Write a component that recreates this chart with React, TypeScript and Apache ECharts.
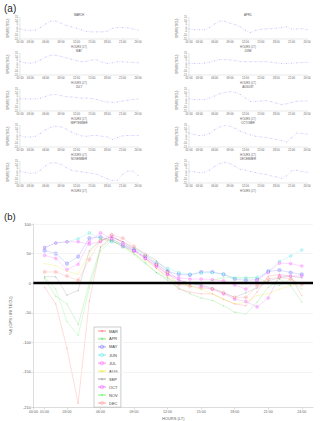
import React, { useEffect, useRef } from "react";
import * as echarts from "echarts";

// ---------- Data ----------
const HOURS = [1, 2, 3, 4, 5, 6, 7, 8, 9, 10, 11, 12, 13, 14, 15, 16, 17, 18, 19, 20, 21, 22, 23, 24];
const TICKS_A = [1, 3, 6, 9, 12, 15, 18, 21, 24];
const TICKS_B = [0, 1, 3, 6, 9, 12, 15, 18, 21, 24];
const Y_LABELS_B = [-210, -150, -100, -50, 0, 50, 100];
const GRID_B = [100, 50, -50, -100, -150];

// panel (a): GPS - IRI difference (TECU)
const MARCH_A = [-1, -2.5, -3, -2.5, 1, 6, 10, 10, 7, 4, 2, 0, -2, -4.5, -5, -5, -5, -4, 0, 1, 1, 0.5, -1, -2.5];
const APRIL_A = [-1, -2, -2, -2, 1, 6, 10, 9.5, 7, 5, 2, -3, -6, -3, -1.5, -1, -0.5, 0, 1, 2, -1, -1, -0.5, -2];
const MAY_A = [4, 2, 1.5, 3, 6, 10, 12.5, 12.5, 11, 9, 7, 5, 3.5, 4, 6, 6, 3, 1, 2, 3.5, 3.5, 3, 2.5, 2];
const JUNE_A = [1.5, 1, 1, 1.5, 3, 5, 6.5, 6.5, 6, 5, 4, 3.5, 3.5, 3.5, 3.5, 3.5, 3, 2, 1, 1, 1.5, 2, 2.5, 2.5];
const JULY_A = [2, 2, 2, 2, 3, 5.5, 7.5, 8, 6.5, 5, 4.5, 4, 3, 3, 2.5, 1, -1, -2.5, -3, -2.5, -1, 0, 1, 2];
const AUGUST_A = [2, 1, 1, 1, 3, 6, 9, 11, 12, 11, 8, 3, -1.5, -1.5, -1, -0.5, -2, -4, -6, -5, -3, -1.5, -1, -1];
const SEPTEMBER_A = [1, -1, -1, 0, 4, 9, 12.5, 14, 13, 10, 6, 3, 0.5, 0, 1, 1, 0, -1, -4.5, -2, 0.5, 1, 1, 1];
const OCTOBER_A = [4.5, 2.5, 1, 1.5, 4, 9, 13, 15, 14, 11, 7, 4.5, 2, 0, -1, -1.5, -3, -4.5, -6, -8, -2, 4.5, 4, 3];
const NOVEMBER_A = [1.5, 0, -1.5, -1, 3, 9, 13, 13, 11, 6.5, 3, 1.5, 0.5, -0.5, -1.5, -3, -6, -9, -11.5, -11, -3, 1.5, 1.5, -4.5];
const DECEMBER_A = [1.5, 0.5, -0.5, 0, 3, 8, 12, 14, 12, 8, 4, 3, 1, -0.5, -2, -3, -5, -6.5, -8.5, -5, 2, 3, 1, 0];

// panel (b): % difference
const MAR_B = [-7, -35, -110, -203, -30, 62, 78, 70, 58, 42, 25, 10, -10, -15, -18, -18, -27, -35, -38, -15, 12, 15, 12, -21];
const APR_B = [8, -22, -35, -70, 0, 60, 75, 65, 50, 35, 18, 5, -8, -18, -25, -29, -38, -49, -52, -32, -7, 7, -4, -32];
const MAY_B = [55, 50, 33, 45, 76, 78, 72, 62, 55, 45, 32, 20, 15, 14, 19, 19, 15, 7, 5, 6, 20, 22, 18, 15];
const JUN_B = [60, 68, 70, 75, 85, 75, 70, 65, 58, 48, 35, 25, 18, 15, 17, 18, 15, 9, 9, 10, 20, 37, 46, 56];
const JUL_B = [47, 42, 23, 32, 70, 85, 75, 65, 55, 42, 28, 15, 9, 7, 7, 6, 4, -3, -10, 5, 18, 34, 33, 29];
const AUG_B = [33, 30, 20, 15, 50, 75, 72, 62, 50, 38, 25, 12, 0, -5, -10, -18, -27, -35, -32, -21, -18, -10, -4, 1];
const SEP_B = [11, 11, -20, -12, 55, 72, 78, 70, 60, 50, 38, 22, 5, 0, -3, -8, -16, -24, -16, -8, 4, 9, 12, 9];
const OCT_B = [60, 68, 70, 70, 66, 70, 80, 68, 55, 42, 30, 15, 5, 0, -5, -10, -18, -27, -31, -40, -25, 12, 12, 12];
const NOV_B = [10, -10, -65, -88, -8, 55, 72, 62, 48, 33, 18, 8, 0, -3, -2, 5, 9, 9, 9, 9, 1, -4, 7, -10];
const DEC_B = [19, 19, 12, 5, 40, 72, 82, 76, 62, 48, 32, 18, -2, -5, -8, -10, -16, -24, -24, -4, 7, 10, 7, -2];

const PANELS_A = [
  { name: "MARCH", data: MARCH_A },
  { name: "APRIL", data: APRIL_A },
  { name: "MAY", data: MAY_A },
  { name: "JUNE", data: JUNE_A },
  { name: "JULY", data: JULY_A },
  { name: "AUGUST", data: AUGUST_A },
  { name: "SEPTEMBER", data: SEPTEMBER_A },
  { name: "OCTOBER", data: OCTOBER_A },
  { name: "NOVEMBER", data: NOVEMBER_A },
  { name: "DECEMBER", data: DECEMBER_A },
];

const SERIES_B = [
  { name: "MAR", data: MAR_B, color: "rgba(255,50,50,0.28)", symbol: "circle", size: 1.2 },
  { name: "APR", data: APR_B, color: "rgba(0,190,0,0.25)", symbol: "circle", size: 1.2 },
  { name: "MAY", data: MAY_B, color: "rgba(40,40,255,0.25)", symbol: "emptyCircle", size: 2.2 },
  { name: "JUN", data: JUN_B, color: "rgba(0,215,215,0.25)", symbol: "emptyCircle", size: 1.6 },
  { name: "JUL", data: JUL_B, color: "rgba(255,0,255,0.25)", symbol: "emptyCircle", size: 1.6 },
  { name: "AUG", data: AUG_B, color: "rgba(225,225,0,0.35)", symbol: "circle", size: 1 },
  { name: "SEP", data: SEP_B, color: "rgba(70,70,70,0.25)", symbol: "triangle", size: 1.8 },
  { name: "OCT", data: OCT_B, color: "rgba(220,0,255,0.25)", symbol: "emptyCircle", size: 1.6 },
  { name: "NOV", data: NOV_B, color: "rgba(0,230,0,0.25)", symbol: "circle", size: 1.2 },
  { name: "DEC", data: DEC_B, color: "rgba(255,80,80,0.25)", symbol: "emptyDiamond", size: 2 },
];

const hh = (v: number) => (v < 10 ? "0" + v : "" + v) + ":00";

export default function App() {
  const ref = useRef<HTMLDivElement>(null);
  useEffect(() => {
    if (!ref.current) return;
    const chart = echarts.init(ref.current, null, { renderer: "svg" });
    const font = "Liberation Sans";
    const grids: any[] = [];
    const xAxes: any[] = [];
    const yAxes: any[] = [];
    const series: any[] = [];
    const graphics: any[] = [];
    const axisGray = "#c4c4c4";
    const txtGray = "#666666";

    PANELS_A.forEach((p, i) => {
      const col = i % 2;
      const row = Math.floor(i / 2);
      const left = col === 0 ? 20 : 189;
      const top = 17.5 + 36 * row;
      const width = 118;
      const height = 21.5;
      grids.push({ left, top, width, height });
      xAxes.push({
        gridIndex: i,
        type: "value",
        min: 1,
        max: 24,
        axisLine: { onZero: false, lineStyle: { color: axisGray, width: 0.4 } },
        axisTick: { customValues: TICKS_A, length: 1.2, lineStyle: { color: axisGray, width: 0.4 } },
        axisLabel: { customValues: TICKS_A, formatter: (v: number) => hh(v), fontSize: 2.8, color: txtGray, margin: 1.5, fontFamily: font },
        splitLine: { show: false },
        name: "HOURS (LT)",
        nameLocation: "middle",
        nameGap: 6.5,
        nameTextStyle: { fontSize: 2.8, color: txtGray, fontFamily: font },
      });
      yAxes.push({
        gridIndex: i,
        type: "value",
        min: -15,
        max: 15,
        interval: 5,
        axisLine: { show: true, lineStyle: { color: axisGray, width: 0.4 } },
        axisTick: { show: true, length: 1.2, lineStyle: { color: axisGray, width: 0.4 } },
        axisLabel: { fontSize: 2.6, color: txtGray, margin: 2, fontFamily: font },
        splitLine: { show: false },
        name: "GPS/IRI (TECU)",
        nameLocation: "middle",
        nameGap: 9,
        nameTextStyle: { fontSize: 2.6, color: txtGray, fontFamily: font },
      });
      series.push({
        type: "line",
        xAxisIndex: i,
        yAxisIndex: i,
        data: HOURS.map((h, k) => [h, p.data[k]]),
        smooth: false,
        symbol: "circle",
        symbolSize: 1,
        lineStyle: { color: "rgba(140,140,255,0.4)", width: 0.5, type: [1.5, 1] },
        itemStyle: { color: "rgba(140,140,255,0.5)", borderWidth: 0 },
      });
      graphics.push({
        type: "text",
        x: left + width / 2,
        y: top - 2.6,
        style: { text: p.name, fontSize: 2.8, fill: "#555", fontFamily: font, align: "center", verticalAlign: "middle" },
      });
    });

    const bi = PANELS_A.length;
    grids.push({ left: 18, top: 224, width: 295, height: 186 });
    xAxes.push({
      gridIndex: bi,
      type: "value",
      min: 0,
      max: 25,
      axisLine: { onZero: false, lineStyle: { color: axisGray, width: 0.6 } },
      axisTick: { customValues: TICKS_B, length: 2, lineStyle: { color: axisGray, width: 0.6 } },
      axisLabel: { customValues: TICKS_B, formatter: (v: number) => hh(v), fontSize: 3.6, color: txtGray, margin: 2.5, fontFamily: font },
      splitLine: { show: false },
      name: "HOURS (LT)",
      nameLocation: "middle",
      nameGap: 8.5,
      nameTextStyle: { fontSize: 4, color: txtGray, fontFamily: font },
    });
    yAxes.push({
      gridIndex: bi,
      type: "value",
      min: -210,
      max: 100,
      axisLine: { show: true, onZero: false, lineStyle: { color: axisGray, width: 0.6 } },
      axisTick: { show: true, customValues: Y_LABELS_B, length: 2, lineStyle: { color: axisGray, width: 0.6 } },
      axisLabel: { customValues: Y_LABELS_B, fontSize: 4, color: txtGray, margin: 2.5, fontFamily: font },
      splitLine: { show: false },
      name: "%\u0394 (GPS / IRI TECU)",
      nameLocation: "middle",
      nameGap: 11,
      nameTextStyle: { fontSize: 4, color: txtGray, fontFamily: font },
    });

    series.push({
      type: "line",
      name: "__grid",
      xAxisIndex: bi,
      yAxisIndex: bi,
      data: [],
      silent: true,
      markLine: {
        silent: true,
        symbol: "none",
        label: { show: false },
        animation: false,
        data: GRID_B.map((v) => ({ yAxis: v, lineStyle: { color: "#ececec", width: 0.6, type: "solid" } })),
      },
      z: 1,
    });

    SERIES_B.forEach((s) => {
      series.push({
        type: "line",
        name: s.name,
        xAxisIndex: bi,
        yAxisIndex: bi,
        data: HOURS.map((h, k) => [h, s.data[k]]),
        symbol: s.symbol,
        symbolSize: s.size,
        lineStyle: { color: s.color, width: 0.6 },
        itemStyle: { color: s.color, borderWidth: 0.4 },
        z: 2,
      });
    });

    series.push({
      type: "line",
      name: "__zero",
      xAxisIndex: bi,
      yAxisIndex: bi,
      data: [],
      silent: true,
      markLine: {
        silent: true,
        symbol: "none",
        label: { show: false },
        animation: false,
        data: [{ yAxis: 0, lineStyle: { color: "#000", width: 2.4, type: "solid" } }],
      },
      z: 10,
    });

    graphics.push({ type: "text", x: 4, y: 3, style: { text: "(a)", fontSize: 10, fill: "#222", fontFamily: font } });
    graphics.push({ type: "text", x: 4, y: 211, style: { text: "(b)", fontSize: 9.5, fill: "#222", fontFamily: font } });

    chart.setOption({
      animation: false,
      backgroundColor: "#ffffff",
      textStyle: { fontFamily: font },
      grid: grids,
      xAxis: xAxes,
      yAxis: yAxes,
      series,
      graphic: graphics,
      legend: {
        data: SERIES_B.map((s) => s.name),
        orient: "vertical",
        left: 94,
        top: 327,
        itemWidth: 8,
        itemHeight: 3,
        itemGap: 3.8,
        padding: [2, 3, 2, 3],
        backgroundColor: "#ffffff",
        borderColor: "#999999",
        borderWidth: 0.5,
        textStyle: { fontSize: 4, color: "#444", fontFamily: font, padding: [0, 0, 0, -2] },
        selectedMode: false,
      },
    });
    return () => chart.dispose();
  }, []);
  return <div ref={ref} style={{ position: "absolute", left: 0, top: 0, width: 320, height: 421 }} />;
}
